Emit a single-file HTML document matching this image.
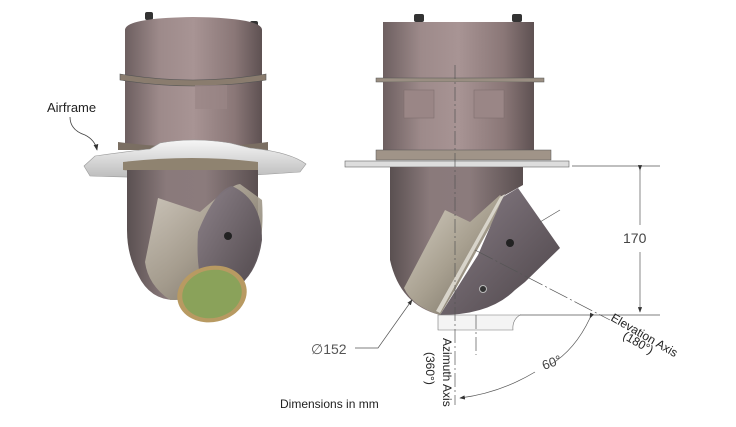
<!DOCTYPE html>
<html><head><meta charset="utf-8"><style>
html,body{margin:0;padding:0;background:#fff;width:736px;height:427px;overflow:hidden}
svg{display:block}
text{font-family:"Liberation Sans",sans-serif;fill:#333}
</style></head><body>
<svg width="736" height="427" viewBox="0 0 736 427" xmlns="http://www.w3.org/2000/svg">
<defs>
<linearGradient id="cyl" x1="0" x2="1" y1="0" y2="0">
<stop offset="0" stop-color="#6d5f60"/><stop offset="0.25" stop-color="#9d8a8a"/><stop offset="0.5" stop-color="#a89494"/><stop offset="0.8" stop-color="#8a7777"/><stop offset="1" stop-color="#5e5152"/>
</linearGradient>
<linearGradient id="body" x1="0" x2="1" y1="0" y2="0">
<stop offset="0" stop-color="#5a5051"/><stop offset="0.3" stop-color="#8a7a7b"/><stop offset="0.6" stop-color="#8b7b7c"/><stop offset="1" stop-color="#5a4f50"/>
</linearGradient>
<linearGradient id="silver" x1="0" x2="1" y1="0" y2="1">
<stop offset="0" stop-color="#d8d2c6"/><stop offset="0.5" stop-color="#a8a090"/><stop offset="1" stop-color="#6b6458"/>
</linearGradient>
<linearGradient id="plate" x1="0" x2="0" y1="0" y2="1">
<stop offset="0" stop-color="#f6f6f6"/><stop offset="1" stop-color="#bdbdbd"/>
</linearGradient>
<linearGradient id="dome" x1="0" x2="1" y1="0" y2="1">
<stop offset="0" stop-color="#8a7f88"/><stop offset="1" stop-color="#4c4448"/>
</linearGradient>
<marker id="ar" markerWidth="8" markerHeight="6" refX="7" refY="3" orient="auto"><path d="M0,0 L8,3 L0,6 Z" fill="#333"/></marker>
</defs>

<!-- LEFT VIEW -->
<rect x="145" y="12" width="8" height="8" rx="2" fill="#333"/>
<rect x="250" y="21" width="8" height="6" rx="2" fill="#333"/>
<path d="M125,30 Q125,18 193,17 Q262,18 262,30 L262,150 L125,150 Z" fill="url(#cyl)"/>
<path d="M120,74 Q193,86 266,74 L266,80 Q193,92 120,80 Z" fill="#8a7c6e" stroke="#555" stroke-width="0.6"/>
<rect x="195" y="85" width="32" height="24" fill="#9a8686" opacity="0.7"/>
<path d="M118,142 Q193,152 268,142 L268,150 L118,150 Z" fill="#7a6e62"/>
<path d="M84,166 L95,156 Q130,151 150,149 L160,143 Q193,137 230,143 L250,148 Q290,152 306,164 L300,172 Q193,180 90,176 Z" fill="url(#plate)" stroke="#999" stroke-width="0.6"/>
<path d="M123,162 Q193,154 258,162 L258,170 Q193,176 123,170 Z" fill="#8f8370"/>
<path d="M127,170 L258,170 L258,235 Q258,270 232,282 L175,300 Q150,300 138,275 Q127,255 127,230 Z" fill="url(#body)"/>
<path d="M158,198 L200,212 Q230,185 240,184 L262,200 Q266,260 240,285 Q225,300 205,300 L170,300 Q148,285 145,262 Z" fill="url(#silver)" opacity="0.9"/>
<path d="M198,232 Q215,190 232,186 Q262,200 262,240 Q258,270 240,285 L210,300 Q195,280 198,232 Z" fill="url(#dome)" opacity="0.95"/>
<circle cx="228" cy="236" r="4" fill="#222"/>
<ellipse cx="212" cy="294" rx="35" ry="28" transform="rotate(-12 212 294)" fill="#b89a62"/>
<ellipse cx="212" cy="294" rx="30" ry="24" transform="rotate(-12 212 294)" fill="#8aa25a"/>
<text x="47" y="112" font-size="13" style="fill:#222">Airframe</text>
<path d="M70,117 Q70,130 85,135 Q95,140 97,150" fill="none" stroke="#444" stroke-width="0.8" marker-end="url(#ar)"/>

<!-- RIGHT VIEW -->
<rect x="414" y="14" width="10" height="8" rx="2" fill="#333"/>
<rect x="512" y="14" width="10" height="8" rx="2" fill="#333"/>
<rect x="383" y="22" width="151" height="58" fill="url(#cyl)"/>
<rect x="376" y="78" width="168" height="4" fill="#9a8e82" stroke="#555" stroke-width="0.5"/>
<rect x="383" y="82" width="151" height="68" fill="url(#cyl)"/>
<rect x="404" y="90" width="30" height="28" fill="#9a8686" stroke="#7a6a6a" stroke-width="0.5"/>
<rect x="474" y="90" width="30" height="28" fill="#9a8686" stroke="#7a6a6a" stroke-width="0.5"/>
<rect x="376" y="150" width="175" height="10" fill="#a09488" stroke="#555" stroke-width="0.5"/>
<rect x="345" y="161" width="224" height="6" fill="#ddd" stroke="#666" stroke-width="0.6"/>
<path d="M390,167 L523,167 L523,185 L505,195 L460,240 L430,305 L440,315 Q400,305 390,260 Z" fill="url(#body)"/>
<path d="M445,210 L470,222 L500,195 L505,200 L455,290 L440,315 Q412,306 404,288 Z" fill="url(#silver)"/>
<path d="M503,197 L518,188 L560,248 L525,282 L515,290 Q490,315 440,315 L478,255 Z" fill="url(#dome)"/>
<path d="M500,197 L505,194 L440,313 L436,311 Z" fill="#d8d4ca"/>
<circle cx="510" cy="243" r="4" fill="#222"/>
<circle cx="483" cy="289" r="3.5" fill="#333" stroke="#bbb"/>
<path d="M438,315 L520,315 Q512,320 513,330 L438,330 Z" fill="#f4f4f4" stroke="#777" stroke-width="0.6"/>

<!-- dimension lines -->
<g stroke="#555" stroke-width="0.7" fill="none">
<line x1="455" y1="65" x2="455" y2="405" stroke-dasharray="14,3,2,3"/>
<line x1="476" y1="315" x2="476" y2="355" stroke-dasharray="14,3,2,3"/>
<line x1="572" y1="166" x2="660" y2="166"/>
<line x1="520" y1="315" x2="660" y2="315"/>
<line x1="640" y1="170" x2="640" y2="225" marker-start="url(#ar)"/>
<line x1="640" y1="252" x2="640" y2="312" marker-end="url(#ar)"/>
<line x1="475" y1="250" x2="610" y2="320" stroke-dasharray="20,3,2,3"/>
<line x1="560" y1="210" x2="540" y2="222"/>
<path d="M590,318 Q575,350 550,365" marker-start="url(#ar)"/>
<path d="M535,372 Q500,393 460,398" marker-end="url(#ar)"/>
<polyline points="355,348 378,348 412,300" marker-end="url(#ar)"/>
</g>
<text x="623" y="243" font-size="14" style="fill:#444">170</text>
<text x="311" y="354" font-size="14" style="fill:#555">∅152</text>
<text x="544" y="370" font-size="13" transform="rotate(-20 544 370)" style="fill:#444">60°</text>
<text font-size="12" transform="translate(610,320) rotate(30)" style="fill:#222">Elevation Axis</text>
<text font-size="12" transform="translate(622,338) rotate(30)" style="fill:#222">(180°)</text>
<text font-size="12" transform="translate(443,338) rotate(90)" style="fill:#222">Azimuth Axis</text>
<text font-size="12" transform="translate(426,352) rotate(90)" style="fill:#222">(360°)</text>
<text x="280" y="408" font-size="12" style="fill:#222">Dimensions in mm</text>
</svg>
</body></html>
